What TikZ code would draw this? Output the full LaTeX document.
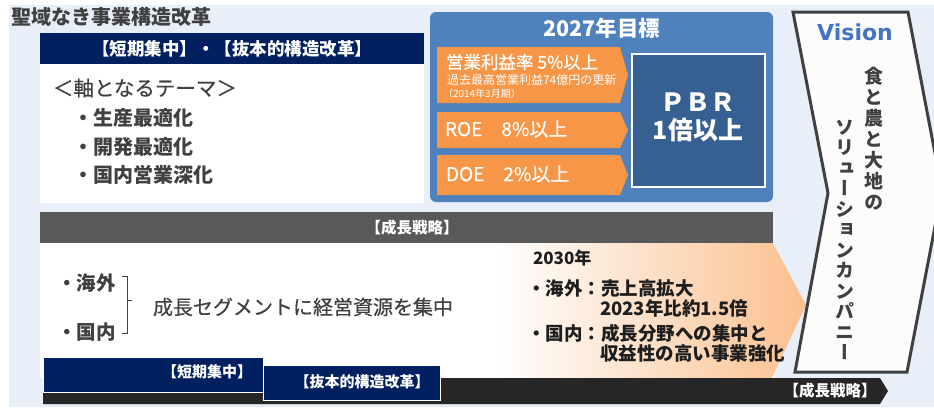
\documentclass[tikz,border=0pt]{standalone}
\usepackage{fontspec}
\setmainfont{Noto Sans CJK JP}
\newfontfamily\jpmed[FakeBold=0.5]{Noto Sans CJK JP}
\newfontfamily\jpv[RawFeature=+vert]{Noto Sans CJK JP}
\newfontfamily\visfont{DejaVu Sans}
\definecolor{bgblue}{HTML}{E8EFF9}
\definecolor{tgray}{HTML}{404040}
\definecolor{tdark}{HTML}{1E1E1E}
\definecolor{navy}{HTML}{002060}
\definecolor{boxblue}{HTML}{4F81BD}
\definecolor{pbrblue}{HTML}{376092}
\definecolor{orng}{HTML}{F79646}
\definecolor{bargray}{HTML}{595959}
\definecolor{peach}{HTML}{FAC08F}
\definecolor{blackbar}{HTML}{262626}
\definecolor{visline}{HTML}{404040}
\definecolor{visfill}{HTML}{FCFCFC}
\definecolor{visblue}{HTML}{4472C4}
\newcommand\fsz[1]{\fontsize{#1}{#1}\selectfont}
\begin{document}
\begin{tikzpicture}[x=1pt,y=-1pt,
  txt/.style={inner sep=0pt, outer sep=0pt},
  rect/.style={inner sep=0pt, outer sep=0pt, draw=none},
  orarrow/.style={fill=orng},
  wtxt/.style={txt, text=white}]
\useasboundingbox (0,0) rectangle (934,407);
\clip (0,0) rectangle (934,407);
\fill[white] (0,0) rectangle (934,407);
\fill[bgblue] (9,5) rectangle (934,407);

% title
\node[txt, anchor=west, text=tgray, font=\fsz{20pt}\bfseries] (title) at (11,17) {聖域なき事業構造改革};

% upper left block
\node[rect, fill=navy, minimum width=384pt, minimum height=31pt, anchor=north west] (hdr) at (40,33) {};
\node[wtxt, font=\fsz{17.5pt}\bfseries] (hdrt) at (hdr.center) {【短期集中】・【抜本的構造改革】};
\node[rect, fill=white, minimum width=384pt, minimum height=139pt, anchor=north west] (wbox) at (40,64) {};
\node[txt, anchor=west, text=tgray, font=\jpmed\fsz{20.5pt}] (theme) at (53,88) {＜軸となるテーマ＞};
\node[txt, anchor=west, text=tgray, font=\fsz{20pt}\bfseries] (b1) at (73,118) {・生産最適化};
\node[txt, anchor=west, text=tgray, font=\fsz{20pt}\bfseries] (b2) at (73,147) {・開発最適化};
\node[txt, anchor=west, text=tgray, font=\fsz{20pt}\bfseries] (b3) at (73,175) {・国内営業深化};

% 2027 goal block
\node[rect, fill=boxblue, rounded corners=6pt, minimum width=343pt, minimum height=190pt, anchor=north west] (goal) at (430,12) {};
\node[wtxt, font=\fsz{21.5pt}\bfseries] (goalt) at (602,28) {2027年目標};
\fill[orarrow] (437,47) -- (620,47) -- (628,75) -- (620,103) -- (437,103) -- cycle;
\fill[orarrow] (437,112) -- (620,112) -- (628,130) -- (620,148) -- (437,148) -- cycle;
\fill[orarrow] (437,155) -- (620,155) -- (628,175) -- (620,195) -- (437,195) -- cycle;
\node[wtxt, anchor=west, font=\jpmed\fsz{17.5pt}] (op1) at (446,62) {営業利益率 5\%以上};
\node[wtxt, anchor=west, font=\fsz{12pt}] (op2) at (447,80) {過去最高営業利益74億円の更新};
\node[wtxt, anchor=west, font=\fsz{10pt}] (op3) at (443,94) {（2014年3月期）};
\node[wtxt, anchor=west, font=\jpmed\fsz{19pt}] (roe) at (445,129) {ROE　8\%以上};
\node[wtxt, anchor=west, font=\jpmed\fsz{19pt}] (doe) at (446,174) {DOE　2\%以上};
\node[rect, fill=pbrblue, draw=white, line width=2.5pt, minimum width=133pt, minimum height=133pt, anchor=north west] (pbr) at (632,54) {};
\node[wtxt, font=\fsz{25pt}\bfseries] (pbr1) at (698,102) {ＰＢＲ};
\node[wtxt, font=\fsz{25pt}\bfseries] (pbr2) at (698,130) {1倍以上};

% growth strategy
\node[rect, fill=bargray, minimum width=733pt, minimum height=31pt, anchor=north west] (gbar) at (40,212) {};
\node[wtxt, font=\fsz{15.5pt}\bfseries] (gbart) at (412,228) {【成長戦略】};
\fill[white] (40,243) rectangle (775,378);
\shade[left color=white, right color=peach] (495,243) -- (773,243) -- (806,305) -- (772,378) -- (495,378) -- cycle;

\node[txt, anchor=west, text=tgray, font=\fsz{19.5pt}\bfseries] (kaigai) at (57,283) {・海外};
\node[txt, anchor=west, text=tgray, font=\fsz{19.5pt}\bfseries] (kokunai) at (57,332) {・国内};
\coordinate (brT) at (122,276);
\coordinate (brB) at (122,333);
\coordinate (brM) at (127,300);
\draw[tgray, line width=0.8pt] (brT) -- ++(5,0) |- (brB);
\draw[tgray, line width=0.8pt] (brM) -- ++(5,0);
\node[txt, anchor=west, text=tgray, font=\jpmed\fsz{20pt}] (seg) at (153,307) {成長セグメントに経営資源を集中};

\node[txt, anchor=west, text=tdark, font=\fsz{17pt}\bfseries] (y2030) at (533,258) {2030年};
\node[txt, anchor=west, text=tdark, font=\fsz{18.5pt}\bfseries] (r1) at (527,288) {・海外：売上高拡大};
\node[txt, anchor=west, text=tdark, font=\fsz{18.5pt}\bfseries] (r2) at (600,308) {2023年比約1.5倍};
\node[txt, anchor=west, text=tdark, font=\fsz{18.5pt}\bfseries] (r3) at (527,333) {・国内：成長分野への集中と};
\node[txt, anchor=west, text=tdark, font=\fsz{18.5pt}\bfseries] (r4) at (600,353) {収益性の高い事業強化};

% bottom timeline
\fill[blackbar] (43,378) -- (880,378) -- (888,391) -- (880,404) -- (43,404) -- cycle;
\node[wtxt, font=\fsz{15.5pt}\bfseries] (gbot) at (830,391) {【成長戦略】};
\node[rect, fill=navy, draw=white, line width=0.8pt, minimum width=220pt, minimum height=35pt, anchor=north west] (short) at (43,357) {};
\node[wtxt, font=\fsz{15pt}\bfseries] (shortt) at (207,372) {【短期集中】};
\node[rect, fill=navy, draw=white, line width=0.8pt, minimum width=177pt, minimum height=35pt, anchor=north west] (bapp) at (263,365) {};
\node[wtxt, font=\fsz{15pt}\bfseries] (bappt) at (362,382) {【抜本的構造改革】};

% vision chevron
\filldraw[fill=visfill, draw=visline, line width=3pt, line join=miter] (793,12) -- (908,12) -- (942,190) -- (907,372) -- (795,372) -- (828,193) -- cycle;
\node[txt, text=visblue, font=\visfont\bfseries\fsz{22pt}] (vis) at (855,32) {Vision};
\node[txt, align=center, text=tgray, font=\jpv\bfseries\fontsize{19pt}{21pt}\selectfont] (v1) at (874,139) {食\\と\\農\\と\\大\\地\\の};
\node[txt, align=center, text=tgray, font=\jpv\bfseries\fontsize{19pt}{20.5pt}\selectfont] (v2) at (845,240) {ソ\\リ\\ュ\\ー\\シ\\ョ\\ン\\カ\\ン\\パ\\ニ\\ー};
\end{tikzpicture}
\end{document}
